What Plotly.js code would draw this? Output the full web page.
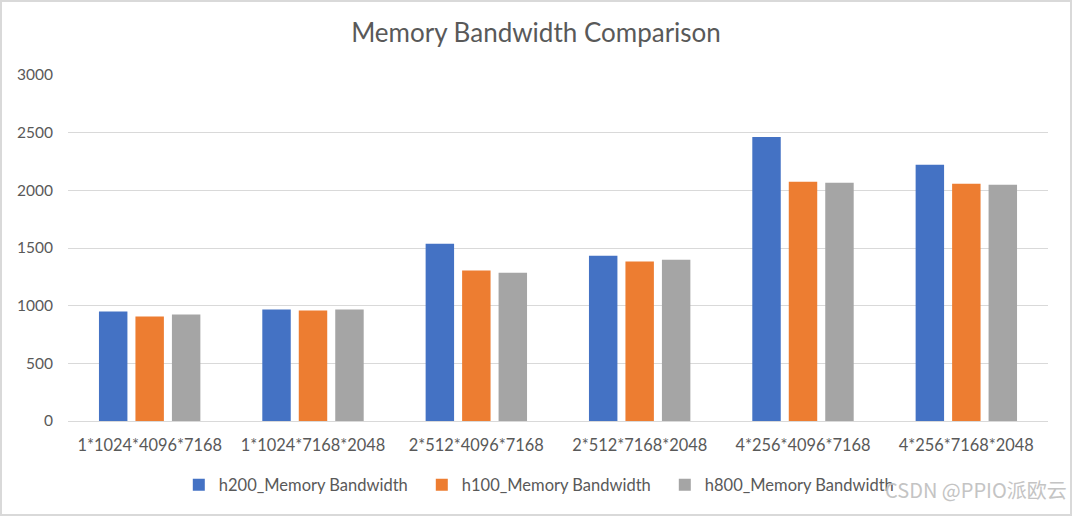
<!DOCTYPE html>
<html>
<head>
<meta charset="utf-8">
<script src="https://cdn.plot.ly/plotly-3.1.2.min.js"></script>
<style>
  body { margin: 0; background: #fff; }
  #chart { width: 1068px; height: 512px; border: 2px solid #d9d9d9; }
</style>
</head>
<body>
<div id="chart"></div>
<script>
const shapes = [
  "1*1024*4096*7168",
  "1*1024*7168*2048",
  "2*512*4096*7168",
  "2*512*7168*2048",
  "4*256*4096*7168",
  "4*256*7168*2048",
];
const h200 = [949, 966, 1537, 1433, 2463, 2221];
const h100 = [906, 958, 1304, 1382, 2074, 2057];
const h800 = [923, 966, 1286, 1399, 2065, 2048];

const font = "Lato, 'Liberation Sans', sans-serif";

const makeTrace = (name, y, color) => ({
  type: "bar",
  name: name,
  x: shapes,
  y: y,
  marker: { color: color },
});

const data = [
  makeTrace("h200_Memory Bandwidth", h200, "#4472c4"),
  makeTrace("h100_Memory Bandwidth", h100, "#ed7d31"),
  makeTrace("h800_Memory Bandwidth", h800, "#a5a5a5"),
];

const layout = {
  width: 1068,
  height: 512,
  margin: { l: 66, r: 22, t: 73, b: 93 },
  paper_bgcolor: "#ffffff",
  plot_bgcolor: "#ffffff",
  font: { family: font, color: "#595959", size: 15 },
  title: {
    text: "Memory Bandwidth Comparison",
    font: { family: font, size: 26, color: "#595959" },
    x: 0.5,
    xanchor: "center",
    y: 0.94,
    yanchor: "middle",
  },
  barmode: "group",
  bargap: 0.33,
  bargroupgap: 0.22,
  xaxis: {
    type: "category",
    showgrid: false,
    showline: true,
    linecolor: "#d9d9d9",
    linewidth: 1,
    ticks: "",
    ticklabelstandoff: 9,
    tickfont: { size: 16.4, color: "#595959" },
  },
  yaxis: {
    range: [0, 3000],
    tickvals: [0, 500, 1000, 1500, 2000, 2500, 3000],
    showgrid: true,
    gridcolor: "#d9d9d9",
    gridwidth: 1,
    zeroline: true,
    zerolinecolor: "#d9d9d9",
    showline: false,
    ticks: "",
    ticklabelstandoff: 14,
    tickfont: { size: 15.5, color: "#595959" },
  },
  showlegend: true,
  legend: {
    orientation: "h",
    x: 0.485,
    xanchor: "center",
    y: -0.185,
    yanchor: "middle",
    font: { size: 16.5, color: "#595959" },
    itemwidth: 30,
    entrywidth: 198,
    tracegroupgap: 0,
  },
  annotations: [
    {
      text: "CSDN @PPIO派欧云",
      xref: "paper",
      yref: "paper",
      x: 1.021,
      xanchor: "right",
      y: -0.198,
      yanchor: "middle",
      showarrow: false,
      font: { family: "'Noto Sans CJK SC', 'Noto Sans', sans-serif", size: 20, color: "#c4c4c4" },
    },
  ],
};

Plotly.newPlot("chart", data, layout, { displayModeBar: false, staticPlot: true });
</script>
</body>
</html>
